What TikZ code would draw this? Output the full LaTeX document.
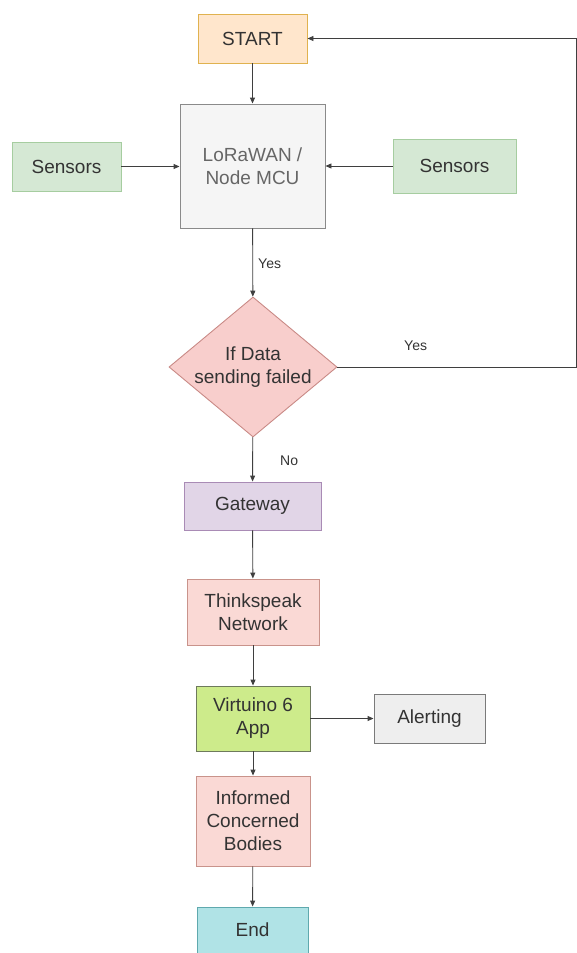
\documentclass[tikz,border=0pt]{standalone}
\usepackage{fontspec}
\setmainfont{Liberation Sans}
\usetikzlibrary{arrows.meta,shapes.geometric}
\definecolor{ln}{HTML}{3F3F3F}
\definecolor{tx}{HTML}{333333}
\definecolor{startF}{HTML}{FFE6CC}\definecolor{startD}{HTML}{E0B24F}
\definecolor{loraF}{HTML}{F5F5F5}\definecolor{loraD}{HTML}{8A8A8A}\definecolor{loraT}{HTML}{666666}
\definecolor{senF}{HTML}{D5E8D4}\definecolor{senD}{HTML}{A6CDA0}
\definecolor{diaF}{HTML}{F8CECC}\definecolor{diaD}{HTML}{C98A86}
\definecolor{gwF}{HTML}{E1D5E7}\definecolor{gwD}{HTML}{A98BB5}
\definecolor{tsF}{HTML}{FAD9D5}\definecolor{tsD}{HTML}{C9938B}
\definecolor{vtF}{HTML}{CDEB8B}\definecolor{vtD}{HTML}{6E7A5C}
\definecolor{alF}{HTML}{EEEEEE}\definecolor{alD}{HTML}{7A7A7A}
\definecolor{endF}{HTML}{B0E3E6}\definecolor{endD}{HTML}{5FA9AE}
\tikzset{
  box/.style={draw, line width=0.9pt, rectangle, inner sep=2pt, align=center, text=tx,
    font=\fontsize{19}{23}\selectfont},
  arr/.style={draw=ln, line width=0.9pt, -{Triangle[length=6pt,width=5pt]}},
  lbl/.style={font=\fontsize{14}{16}\selectfont, text=tx, anchor=west, inner sep=0pt},
}
\begin{document}
\begin{tikzpicture}[x=1pt,y=-1pt]
\useasboundingbox (0,0) rectangle (577,953);
\node[box, fill=startF, draw=startD, minimum width=109pt, minimum height=49pt] (start) at (252.5,38.5) {START};
\node[box, fill=loraF, draw=loraD, text=loraT, minimum width=145pt, minimum height=124pt] (lora) at (252.5,166) {LoRaWAN /\\Node MCU};
\node[box, fill=senF, draw=senD, minimum width=109pt, minimum height=49pt] (sl) at (66.5,166.5) {Sensors};
\node[box, fill=senF, draw=senD, minimum width=123pt, minimum height=54pt] (sr) at (454.5,166) {Sensors};
\node[box, shape=diamond, aspect=1.19, fill=diaF, draw=diaD, inner sep=0pt, minimum width=168pt, minimum height=140pt] (dia) at (253,367) {If Data\\sending failed};
\node[box, fill=gwF, draw=gwD, minimum width=137pt, minimum height=48pt] (gw) at (252.5,506) {Gateway};
\node[box, fill=tsF, draw=tsD, minimum width=132pt, minimum height=66pt] (ts) at (253,612) {Thinkspeak\\Network};
\node[box, fill=vtF, draw=vtD, minimum width=114pt, minimum height=65pt] (vt) at (253,718.5) {Virtuino 6\\App};
\node[box, fill=alF, draw=alD, minimum width=111pt, minimum height=49pt] (al) at (429.5,718.5) {Alerting};
\node[box, fill=tsF, draw=tsD, minimum width=114pt, minimum height=90pt] (inf) at (253,821) {Informed\\Concerned\\Bodies};
\node[box, fill=endF, draw=endD, minimum width=111pt, minimum height=46pt] (end) at (252.5,930) {End};
\coordinate (fb) at (576,367);
\draw[arr] (start) -- (lora);
\draw[arr] (sl) -- (lora.west |- sl);
\draw[arr] (sr) -- (lora.east |- sr);
\draw[arr] (lora) -- (dia);
\draw[arr] (dia) -- (gw);
\draw[arr] (gw) -- (ts);
\draw[arr] (ts) -- (vt);
\draw[arr] (vt) -- (al);
\draw[arr] (vt) -- (inf);
\draw[arr] (inf) -- (end);
\draw[arr] (dia.east) -- (fb) |- (start.east);
\node[lbl] (y1) at (258,264) {Yes};
\node[lbl] (y2) at (404,346) {Yes};
\node[lbl] (n1) at (280,461) {No};
\end{tikzpicture}
\end{document}
